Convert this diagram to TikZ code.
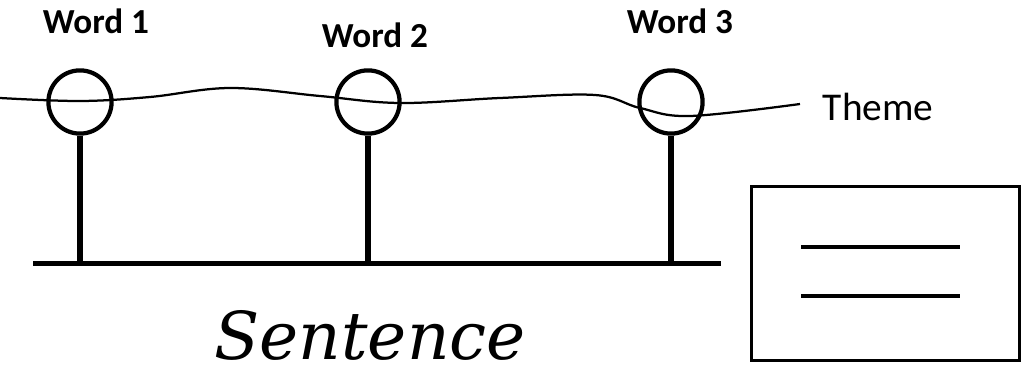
\documentclass[tikz,border=0pt]{standalone}
\usepackage{fontspec}
\setmainfont{Carlito}
\newfontfamily\sentfont{DejaVu Serif}
\tikzset{
  word/.style={circle,draw,line width=3pt,minimum size=1.58cm,inner sep=0pt},
  wordlabel/.style={anchor=base,font=\fontsize{25}{28}\selectfont\bfseries},
  stem/.style={line width=3.6pt},
}
\begin{document}
\begin{tikzpicture}[x=0.025cm,y=-0.025cm]
\useasboundingbox (0,0) rectangle (1023,367);
% theme line running through the words
\draw[line width=1.6pt] plot[smooth,tension=0.6] coordinates {(0,98) (80,101) (150,97) (230,88) (320,96) (400,103) (500,98) (595,95) (640,108) (690,116) (800,104)};
\node[anchor=base west,font=\fontsize{28}{32}\selectfont] (theme) at (818,121) {Theme};
% baseline of the sentence
\coordinate (bl) at (33,263.5);
\coordinate (br) at (721,263.5);
\draw[line width=4pt] (bl)--(br);
\foreach \i/\x/\lx/\ly in {1/80/96/34,2/368/375/48,3/671/680/34}{
  \node[word] (w\i) at (\x,102) {};
  \node[wordlabel] (l\i) at (\lx,\ly) {Word \i};
  \coordinate (f\i) at (\x,263.5);
  \draw[stem] (w\i.south)--(f\i);
}
\node[anchor=base,inner sep=0pt,font=\fontsize{47}{50}\sentfont\itshape] (sent) at (370,359) {Sentence};
% card with two lines
\node[draw,line width=2.4pt,minimum width=6.7cm,minimum height=4.35cm,inner sep=0pt] (card) at (885.5,273.5) {};
\coordinate (a1) at (801,247);
\coordinate (b1) at (960,247);
\coordinate (a2) at (801,296);
\coordinate (b2) at (960,296);
\draw[line width=3.4pt] (a1)--(b1) (a2)--(b2);
\end{tikzpicture}
\end{document}
